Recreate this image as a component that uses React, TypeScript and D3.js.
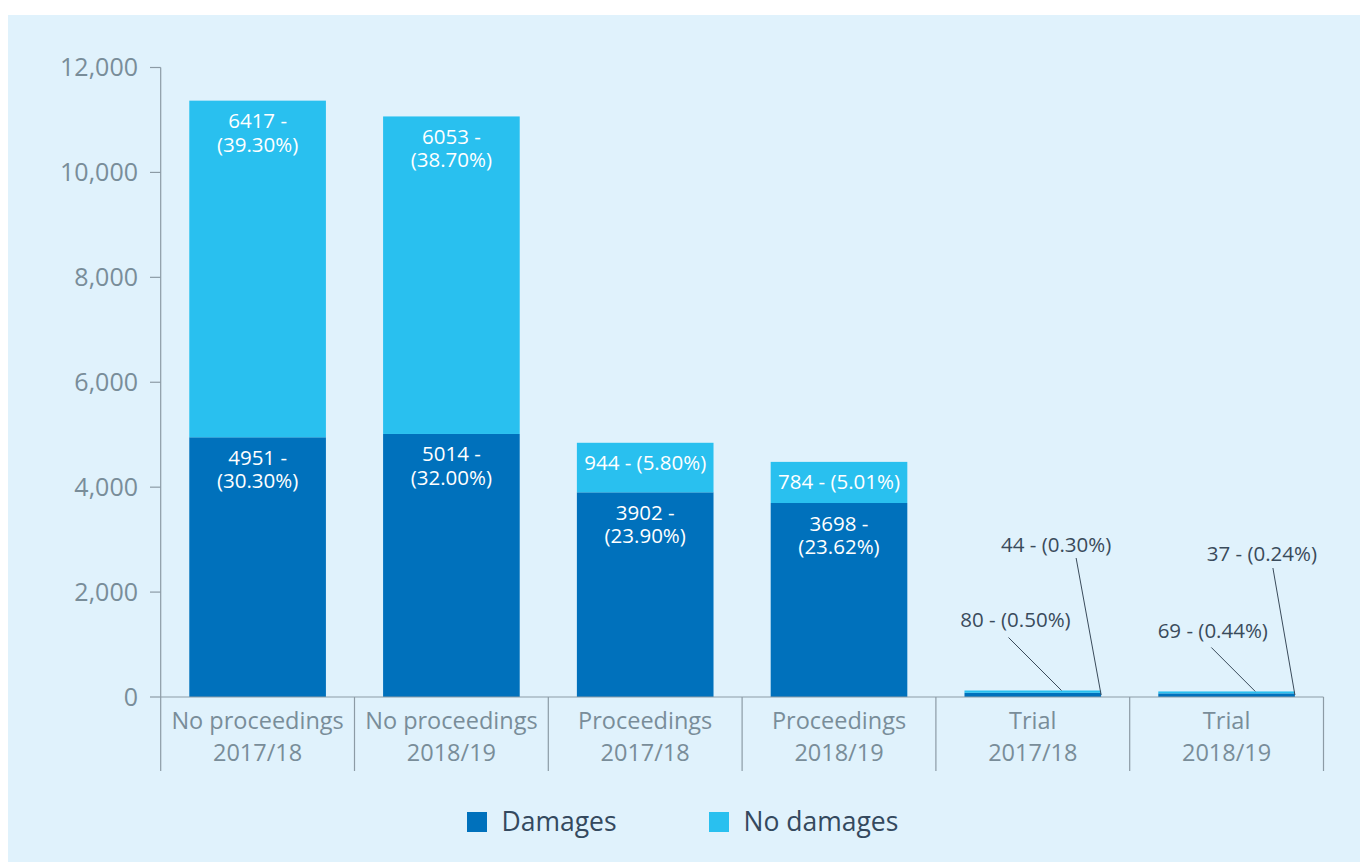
import React from "react";
import * as d3 from "d3";

const categoryLines: string[][] = [
  ["No proceedings", "2017/18"],
  ["No proceedings", "2018/19"],
  ["Proceedings", "2017/18"],
  ["Proceedings", "2018/19"],
  ["Trial", "2017/18"],
  ["Trial", "2018/19"],
];
const damages = [4951, 5014, 3902, 3698, 80, 69];
const noDamages = [6417, 6053, 944, 784, 44, 37];
const damagesPct = ["30.30%", "32.00%", "23.90%", "23.62%", "0.50%", "0.44%"];
const noDamagesPct = ["39.30%", "38.70%", "5.80%", "5.01%", "0.30%", "0.24%"];
const yTicks = [0, 2000, 4000, 6000, 8000, 10000, 12000];
const seriesNames = ["Damages", "No damages"];

const W = 1360;
const H = 862;
const DARK = "#0071bc";
const LIGHT = "#29c0ef";
const BG = "#e0f2fc";
const AXIS = "#8c9ba5";
const TICK_TXT = "#798d99";
const DARK_TXT = "#3a4b5b";
const FONT = "'Open Sans', sans-serif";
const LABEL_FS = 20.5;

// callout layout for small segments: [lineDx, lineDy, textDx, textDy]
const calloutDark: Record<number, number[]> = {
  4: [-53, -53, 7, -10],
  5: [-44, -44, 1.5, -9.5],
};
const calloutLight: Record<number, number[]> = {
  4: [-25, -137, -20, -6],
  5: [-22, -127, -11, -7.5],
};

let ctx: CanvasRenderingContext2D | null = null;
function measure(t: string, fs: number) {
  if (!ctx) ctx = document.createElement("canvas").getContext("2d");
  if (!ctx) return t.length * fs * 0.55;
  ctx.font = `${fs}px 'Open Sans'`;
  return ctx.measureText(t).width;
}

export default function App() {
  const x = d3
    .scaleBand<number>()
    .domain(d3.range(categoryLines.length))
    .range([160.7, 1323.5])
    .paddingInner(0)
    .paddingOuter(0);
  const y = d3.scaleLinear().domain([0, 12000]).range([697, 67.5]);
  const bw = x.bandwidth() * 0.705;
  const bx = (i: number) => (x(i) as number) + (x.bandwidth() - bw) / 2;

  const insideLabel = (v: number, pct: string, top: number, cx: number, key: string) => {
    const full = `${v} - (${pct})`;
    const lines = measure(full, LABEL_FS) <= bw - 12 ? [full] : [`${v} -`, `(${pct})`];
    return (
      <text key={key} x={cx} y={top + 27.5} textAnchor="middle" fill="#ffffff" fontSize={LABEL_FS} fontFamily={FONT}>
        {lines.map((l, k) => (
          <tspan key={k} x={cx} dy={k === 0 ? 0 : 23.5}>
            {l}
          </tspan>
        ))}
      </text>
    );
  };

  return (
    <svg width={W} height={H} style={{ position: "absolute", left: 0, top: 0 }} fontFamily={FONT}>
      <rect x={8} y={15} width={W - 8} height={H - 15} fill={BG} />

      {/* bars */}
      {categoryLines.map((_, i) => {
        const x0 = bx(i);
        const d = damages[i];
        const n = noDamages[i];
        return (
          <g key={i}>
            <rect x={x0} y={y(d)} width={bw} height={y(0) - y(d)} fill={DARK} />
            <rect x={x0} y={y(d + n)} width={bw} height={y(d) - y(d + n)} fill={LIGHT} />
          </g>
        );
      })}

      {/* y axis */}
      <line x1={160.7} x2={160.7} y1={y(12000)} y2={771} stroke={AXIS} strokeWidth={1.2} />
      {yTicks.map((t) => (
        <g key={t}>
          <line x1={150} x2={160.7} y1={y(t)} y2={y(t)} stroke={AXIS} strokeWidth={1.2} />
          <text x={138} y={y(t) + 8.5} textAnchor="end" fontSize={25} fill={TICK_TXT}>
            {d3.format(",")(t)}
          </text>
        </g>
      ))}

      {/* x axis */}
      <line x1={160.7} x2={1323.5} y1={y(0)} y2={y(0)} stroke={AXIS} strokeWidth={1.2} />
      {categoryLines.map((_, i) => (
        <line key={i} x1={(x(i) as number) + x.bandwidth()} x2={(x(i) as number) + x.bandwidth()} y1={y(0)} y2={771} stroke={AXIS} strokeWidth={1.2} />
      ))}
      {categoryLines.map((lines, i) => {
        const cx = (x(i) as number) + x.bandwidth() / 2;
        return (
          <text key={i} x={cx} y={728.5} textAnchor="middle" fontSize={23.5} fill={TICK_TXT}>
            {lines.map((l, k) => (
              <tspan key={k} x={cx} dy={k === 0 ? 0 : 32.3}>
                {l}
              </tspan>
            ))}
          </text>
        );
      })}

      {/* value labels */}
      {categoryLines.map((_, i) => {
        const x0 = bx(i);
        const cx = x0 + bw / 2;
        const d = damages[i];
        const n = noDamages[i];
        const out: React.ReactNode[] = [];
        if (y(0) - y(d) > 40) {
          out.push(insideLabel(d, damagesPct[i], y(d), cx, `d${i}`));
        } else if (calloutDark[i]) {
          const [ldx, ldy, tdx, tdy] = calloutDark[i];
          const ex = x0 + bw * 0.71;
          const ey = y(d + n);
          const sx = ex + ldx;
          const sy = ey + ldy;
          out.push(
            <g key={`dc${i}`}>
              <line x1={sx} y1={sy} x2={ex} y2={ey} stroke={DARK_TXT} strokeWidth={1} />
              <text x={sx + tdx} y={sy + tdy} textAnchor="middle" fontSize={LABEL_FS} fill={DARK_TXT}>
                {`${d} - (${damagesPct[i]})`}
              </text>
            </g>
          );
        }
        if (y(d) - y(d + n) > 40) {
          out.push(insideLabel(n, noDamagesPct[i], y(d + n), cx, `n${i}`));
        } else if (calloutLight[i]) {
          const [ldx, ldy, tdx, tdy] = calloutLight[i];
          const ex = x0 + bw;
          const ey = y(0) - 2;
          const sx = ex + ldx;
          const sy = ey + ldy;
          out.push(
            <g key={`nc${i}`}>
              <line x1={sx} y1={sy} x2={ex} y2={ey} stroke={DARK_TXT} strokeWidth={1} />
              <text x={sx + tdx} y={sy + tdy} textAnchor="middle" fontSize={LABEL_FS} fill={DARK_TXT}>
                {`${n} - (${noDamagesPct[i]})`}
              </text>
            </g>
          );
        }
        return <g key={i}>{out}</g>;
      })}

      {/* legend */}
      {seriesNames.map((s, k) => {
        const lx = k === 0 ? 467 : 709;
        return (
          <g key={s}>
            <rect x={lx} y={812} width={20} height={20} fill={k === 0 ? DARK : LIGHT} />
            <text x={lx + 34.5} y={830.5} fontSize={26.5} fill="#34495e">
              {s}
            </text>
          </g>
        );
      })}
    </svg>
  );
}
